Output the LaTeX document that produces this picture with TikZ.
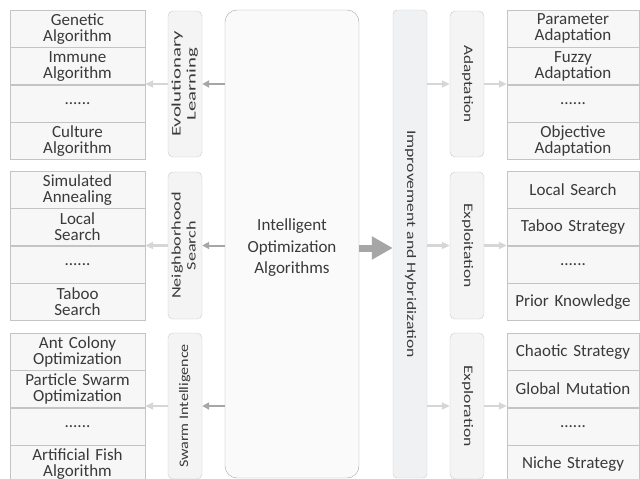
\documentclass[tikz,border=0pt]{standalone}
\usepackage{fontspec}
\setmainfont{Carlito}
\usepackage{graphicx}
\usetikzlibrary{arrows.meta}
\usetikzlibrary{positioning}
\definecolor{txtgray}{HTML}{3A3A3A}
\definecolor{cellline}{HTML}{C4C4C4}
\definecolor{cellfill}{HTML}{F7F7F7}
\definecolor{pillline}{HTML}{CACACA}
\definecolor{pillfill}{HTML}{F4F4F4}
\definecolor{coreline}{HTML}{A6A6A6}
\definecolor{corefill}{HTML}{FAFAFA}
\definecolor{barfill}{HTML}{F0F1F3}
\definecolor{darkarr}{HTML}{A6A6A6}
\definecolor{lightarr}{HTML}{D6D6D6}
\newcommand{\vlabel}[3]{\rotatebox{#1}{\scalebox{#2}[1]{\begin{tabular}{@{}c@{}}#3\end{tabular}}}}

\begin{document}
\begin{tikzpicture}[x=1pt, y=-1pt, node distance=0pt, text=txtgray,
    cell/.style={draw=cellline, fill=cellfill, minimum width=135pt, minimum height=37pt,
      text width=132pt, align=center, inner sep=0pt, font=\fontsize{17}{16}\selectfont},
    rcell/.style={cell, minimum width=132pt, text width=130pt},
    pill/.style={draw=pillline, fill=pillfill, rounded corners=5pt, minimum width=34pt,
      inner sep=0pt, font=\fontsize{13}{15}\selectfont},
    darrow/.style={draw=darkarr, line width=2pt, -{Triangle[length=7pt, width=7pt]}},
    larrow/.style={draw=lightarr, line width=2.5pt, -{Triangle[length=8pt, width=7pt]}}]
  \useasboundingbox (0,0) rectangle (640,479);

  % centre and bar
  \node[draw=coreline, fill=corefill, rounded corners=12pt, minimum width=134pt, minimum height=468pt] (ioa) at (292,244) {};
  \node[align=center, font=\fontsize{17}{21.5}\selectfont] (ioatxt) at (292,248)
    {Intelligent\\Optimization\\Algorithms};
  \node[draw=pillline, fill=barfill, rounded corners=4pt, minimum width=34pt, minimum height=468pt,
    inner sep=0pt, font=\fontsize{13}{15}\selectfont] (ihb) at (410,244)
    {\vlabel{-90}{1.36}{Improvement and Hybridization}};

  % left side
  \node[pill, minimum height=146pt] (evo) at (185,84) {\vlabel{90}{1.6}{Evolutionary\\Learning}};
  \node[pill, minimum height=147pt] (nbs) at (185,245.5) {\vlabel{90}{1.4}{Neighborhood\\Search}};
  \node[pill, minimum height=146pt] (swi) at (185,406) {\vlabel{90}{1.24}{Swarm Intelligence}};

  \node[cell, anchor=north] (gen) at (77.5,10) {Genetic\\Algorithm};
  \node[cell, below=of gen] (imm) {Immune\\Algorithm};
  \node[cell, below=of imm] (ldl) {......};
  \node[cell, below=of ldl] (cul) {Culture\\Algorithm};

  \node[cell, anchor=north] (sim) at (77.5,171) {Simulated\\Annealing};
  \node[cell, below=of sim] (lcs) {Local\\Search};
  \node[cell, below=of lcs] (ndl) {......};
  \node[cell, below=of ndl] (tab) {Taboo\\Search};

  \node[cell, anchor=north] (aco) at (77.5,333) {Ant Colony\\Optimization};
  \node[cell, below=of aco] (pso) {Particle Swarm\\Optimization};
  \node[cell, below=of pso] (sdl) {......};
  \node[cell, below=of sdl] (afa) {Artificial Fish\\Algorithm};

  % right side
  \node[pill, minimum height=146pt] (ada) at (467,84) {\vlabel{-90}{1.32}{Adaptation}};
  \node[pill, minimum height=147pt] (exi) at (467,245.5) {\vlabel{-90}{1.35}{Exploitation}};
  \node[pill, minimum height=146pt] (exr) at (467,406) {\vlabel{-90}{1.36}{Exploration}};

  \node[rcell, anchor=north] (par) at (573,10) {Parameter\\Adaptation};
  \node[rcell, below=of par] (fuz) {Fuzzy\\Adaptation};
  \node[rcell, below=of fuz] (adl) {......};
  \node[rcell, below=of adl] (obj) {Objective\\Adaptation};

  \node[rcell, anchor=north] (los) at (573,171) {Local Search};
  \node[rcell, below=of los] (tas) {Taboo Strategy};
  \node[rcell, below=of tas] (edl) {......};
  \node[rcell, below=of edl] (pri) {Prior Knowledge};

  \node[rcell, anchor=north] (cha) at (573,333) {Chaotic Strategy};
  \node[rcell, below=of cha] (glo) {Global Mutation};
  \node[rcell, below=of glo] (xdl) {......};
  \node[rcell, below=of xdl] (nic) {Niche Strategy};

  % arrows
  \draw[darrow] (ioa.west |- evo.east) -- (evo.east);
  \draw[darrow] (ioa.west |- nbs.east) -- (nbs.east);
  \draw[darrow] (ioa.west |- swi.east) -- (swi.east);
  \draw[larrow] (evo.west) -- (evo.west -| imm.east);
  \draw[larrow] (nbs.west) -- (nbs.west -| lcs.east);
  \draw[larrow] (swi.west) -- (swi.west -| pso.east);

  \draw[draw=coreline, line width=7pt, -{Triangle[length=21pt, width=22pt]}] (ioa.east |- ioatxt) -- (ihb.west |- ioatxt);

  \draw[larrow] (ihb.east |- ada.west) -- (ada.west);
  \draw[larrow] (ihb.east |- exi.west) -- (exi.west);
  \draw[larrow] (ihb.east |- exr.west) -- (exr.west);
  \draw[larrow] (ada.east) -- (ada.east -| fuz.west);
  \draw[larrow] (exi.east) -- (exi.east -| tas.west);
  \draw[larrow] (exr.east) -- (exr.east -| glo.west);
\end{tikzpicture}
\end{document}
